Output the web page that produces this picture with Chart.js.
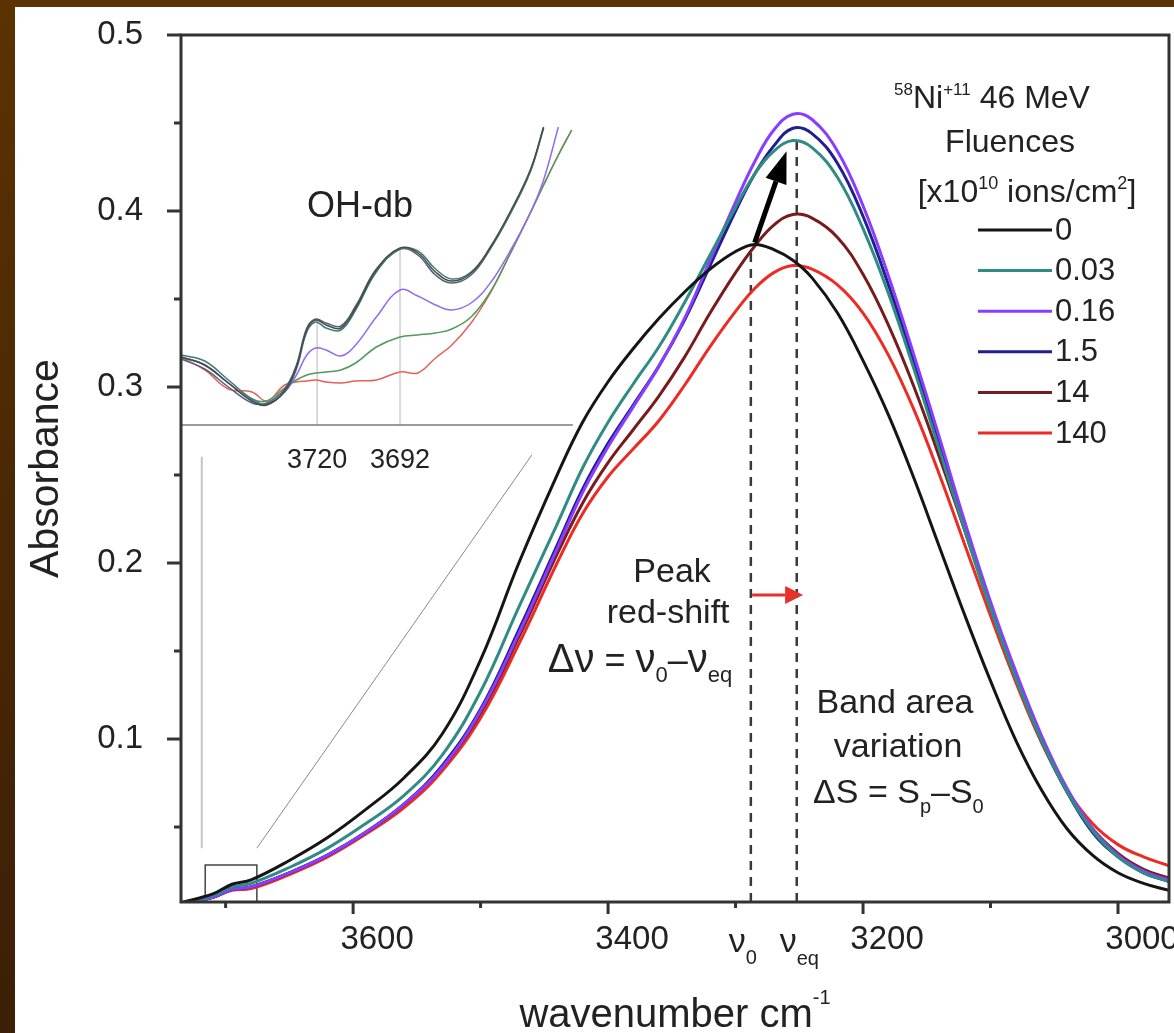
<!DOCTYPE html>
<html>
<head>
<meta charset="utf-8">
<title>Banda OH - fluências Ni</title>
<script src="https://cdn.jsdelivr.net/npm/chart.js@4.4.1/dist/chart.umd.min.js"></script>
<style>
  html, body { margin: 0; padding: 0; }
  body {
    width: 1174px; height: 1033px; overflow: hidden; position: relative;
    background: linear-gradient(to bottom, #5b3301 0%, #4a2805 50%, #3b1f06 100%);
  }
  #wrap { position: absolute; left: 15px; top: 7px; width: 1159px; height: 1026px; background: #fff; }
</style>
</head>
<body>
<div id="wrap"><canvas id="spectra" width="1159" height="1026"></canvas></div>
<script>
// Configuração global
const FONT = "'Liberation Sans', Arial, Helvetica, sans-serif";
Chart.defaults.font.family = FONT;
Chart.defaults.color = '#222';

// --- DADOS ---
const wavenumber = [3735, 3710, 3695, 3680, 3650, 3620, 3590, 3560, 3530, 3500, 3470, 3440, 3420, 3400, 3380, 3360, 3340, 3320, 3300, 3285, 3270, 3255, 3240, 3220, 3200, 3180, 3160, 3140, 3120, 3100, 3080, 3060, 3040, 3020, 3000, 2980, 2960];

const abs_0   = [0.007, 0.012, 0.0175, 0.020, 0.031, 0.044, 0.060, 0.078, 0.103, 0.145, 0.200, 0.250, 0.280, 0.303, 0.322, 0.339, 0.354, 0.367, 0.377, 0.381, 0.378, 0.372, 0.362, 0.342, 0.315, 0.284, 0.248, 0.209, 0.170, 0.133, 0.099, 0.071, 0.049, 0.034, 0.024, 0.018, 0.014];
const abs_003 = [0.006, 0.011, 0.016, 0.018, 0.027, 0.038, 0.052, 0.068, 0.091, 0.127, 0.175, 0.222, 0.254, 0.280, 0.302, 0.323, 0.348, 0.375, 0.402, 0.421, 0.434, 0.440, 0.436, 0.419, 0.390, 0.353, 0.310, 0.264, 0.218, 0.174, 0.134, 0.099, 0.070, 0.048, 0.033, 0.024, 0.019];
const abs_016 = [0.006, 0.010, 0.0145, 0.016, 0.024, 0.034, 0.047, 0.063, 0.084, 0.116, 0.160, 0.208, 0.240, 0.266, 0.289, 0.312, 0.339, 0.372, 0.405, 0.428, 0.446, 0.455, 0.452, 0.434, 0.403, 0.363, 0.318, 0.271, 0.223, 0.178, 0.138, 0.102, 0.072, 0.049, 0.034, 0.025, 0.020];
const abs_15  = [0.006, 0.010, 0.0145, 0.016, 0.024, 0.034, 0.047, 0.063, 0.085, 0.117, 0.162, 0.210, 0.242, 0.268, 0.290, 0.312, 0.338, 0.369, 0.400, 0.421, 0.437, 0.447, 0.444, 0.427, 0.397, 0.358, 0.314, 0.268, 0.221, 0.176, 0.136, 0.100, 0.070, 0.047, 0.033, 0.024, 0.019];
const abs_14  = [0.006, 0.010, 0.0145, 0.016, 0.024, 0.034, 0.047, 0.063, 0.084, 0.115, 0.158, 0.205, 0.234, 0.257, 0.276, 0.295, 0.317, 0.342, 0.365, 0.380, 0.392, 0.398, 0.396, 0.385, 0.364, 0.335, 0.300, 0.260, 0.218, 0.175, 0.135, 0.099, 0.070, 0.049, 0.035, 0.026, 0.021];
const abs_140 = [0.006, 0.010, 0.014, 0.015, 0.023, 0.033, 0.046, 0.061, 0.082, 0.112, 0.154, 0.200, 0.228, 0.249, 0.265, 0.281, 0.301, 0.323, 0.343, 0.356, 0.365, 0.369, 0.367, 0.358, 0.342, 0.318, 0.287, 0.250, 0.210, 0.170, 0.132, 0.098, 0.071, 0.052, 0.040, 0.033, 0.028];

const fluences = ['0', '0.03', '0.16', '1.5', '14', '140'];
const seriesAbs = [abs_0, abs_003, abs_016, abs_15, abs_14, abs_140];
const seriesColors = ['#151515', '#2e8c84', '#8a3cff', '#1f1f8f', '#761c1c', '#ec2c24'];

// inset OH-db (unidades arbitrárias, linha de base = 0)
const insetWavenumber = [3766, 3758, 3750, 3742, 3737, 3731, 3727, 3723.5, 3720.5, 3717, 3712, 3707, 3700, 3692, 3686, 3680, 3674.5, 3668, 3661.5, 3655, 3648, 3643.5, 3638.5, 3634];
const inset_0   = [0.68, 0.60, 0.42, 0.24, 0.20, 0.34, 0.58, 0.95, 1.05, 1.00, 0.97, 1.17, 1.55, 1.77, 1.72, 1.53, 1.44, 1.52, 1.78, 2.12, 2.55, 2.98, null, null];
const inset_003 = [0.70, 0.64, 0.45, 0.26, 0.21, 0.33, 0.56, 0.93, 1.03, 0.97, 0.95, 1.15, 1.53, 1.76, 1.74, 1.56, 1.46, 1.53, 1.77, 2.10, 2.53, 2.97, null, null];
const inset_15  = [0.66, 0.56, 0.38, 0.22, 0.22, 0.36, 0.60, 0.97, 1.06, 1.02, 0.99, 1.19, 1.56, 1.76, 1.70, 1.50, 1.42, 1.50, 1.76, 2.10, 2.54, 2.97, null, null];
const inset_016 = [0.68, 0.60, 0.42, 0.24, 0.21, 0.33, 0.50, 0.70, 0.77, 0.75, 0.69, 0.80, 1.08, 1.35, 1.29, 1.20, 1.15, 1.22, 1.42, 1.73, 2.12, 2.45, 2.98, null];
const inset_14  = [0.68, 0.60, 0.42, 0.26, 0.24, 0.37, 0.45, 0.50, 0.52, 0.53, 0.55, 0.62, 0.78, 0.88, 0.90, 0.92, 0.96, 1.08, 1.33, 1.70, 2.12, 2.40, 2.70, 2.95];
const inset_140 = [0.68, 0.55, 0.36, 0.33, 0.24, 0.40, 0.43, 0.44, 0.45, 0.43, 0.42, 0.44, 0.45, 0.53, 0.52, 0.67, 0.80, 1.02, 1.32, 1.70, 2.12, 2.40, 2.70, 2.95];
const insetSeries = [inset_0, inset_003, inset_15, inset_016, inset_14, inset_140];
const insetColors = ['#4a4a4a', '#3d7d76', '#56607a', '#8f6cf2', '#4f9a5c', '#e2625a'];
const insetPeaks = [3720, 3692];
const insetPeakHeights = [1.05, 1.77];

// eixos
const xTicks = [3700, 3600, 3500, 3400, 3300, 3200, 3100, 3000];
const yTicks = [0.05, 0.1, 0.15, 0.2, 0.25, 0.3, 0.35, 0.4, 0.45, 0.5];
const X_MIN = 2960, X_MAX = 3735;
const Y_MIN = 0.0074, Y_MAX = 0.5;
const X2_MIN = 3432.2, X2_MAX = 3766;   // escala do inset
const Y2_MIN = -4.77, Y2_MAX = 3.9;

// marcações
const nu0 = 3288, nuEq = 3252;
const nu0Top = 0.381, nuEqTop = 0.44;
const zoomBox = { x1: 3716, x2: 3675.5, y1: Y_MIN, y2: 0.0284 };
const guideV = [[3718.7, 0.038], [3718.7, 0.2604]];
const guideD = [[3675.5, 0.038], [3459.8, 0.2614]];
const blackArrow = [[3285, 0.382], [3260, 0.434]];
const redArrow = [[3287, 0.1818], [3247, 0.1818]];

// --- DATASETS ---
const pts = (xs, ys) => xs.map((v, k) => ({ x: v, y: ys[k] }));

const mainSets = fluences.map((f, i) => ({
    label: f,
    data: pts(wavenumber, seriesAbs[i]),
    borderColor: seriesColors[i],
    borderWidth: 3,
    pointRadius: 0,
    tension: 0.4
}));

const insetSets = insetSeries.map((s, i) => ({
    label: 'inset ' + i,
    data: pts(insetWavenumber, s),
    borderColor: insetColors[i],
    borderWidth: 1.5,
    pointRadius: 0,
    tension: 0.4,
    xAxisID: 'x2', yAxisID: 'y2'
}));

function segment(data, color, width, extra) {
    return Object.assign({ label: '', data, borderColor: color, borderWidth: width, pointRadius: 0, tension: 0 }, extra || {});
}

const guideSets = [
    segment([{ x: X2_MAX, y: 0 }, { x: 3633.6, y: 0 }], '#7a7a7a', 1.5, { xAxisID: 'x2', yAxisID: 'y2' }),
    ...insetPeaks.map((p, i) => segment([{ x: p, y: 0 }, { x: p, y: insetPeakHeights[i] }], '#b5b5b5', 1, { xAxisID: 'x2', yAxisID: 'y2' })),
    segment([{ x: zoomBox.x1, y: zoomBox.y1 }, { x: zoomBox.x1, y: zoomBox.y2 }, { x: zoomBox.x2, y: zoomBox.y2 }, { x: zoomBox.x2, y: zoomBox.y1 }], '#444', 1.5),
    segment(guideV.map(p => ({ x: p[0], y: p[1] })), '#c4c4c4', 2),
    segment(guideD.map(p => ({ x: p[0], y: p[1] })), '#8a8a8a', 1),
    segment([{ x: nu0, y: Y_MIN }, { x: nu0, y: nu0Top }], '#3a3a3a', 2.5, { borderDash: [9, 7] }),
    segment([{ x: nuEq, y: Y_MIN }, { x: nuEq, y: nuEqTop }], '#3a3a3a', 2.5, { borderDash: [9, 7] })
];

// --- DESENHO EXTRA (moldura, ticks, textos, legenda) ---
function rich(ctx, x, y, parts, align) {
    let w = 0;
    parts.forEach(p => { ctx.font = p[1] + 'px ' + FONT; w += ctx.measureText(p[0]).width; });
    let cx = align === 'center' ? x - w / 2 : x;
    parts.forEach(p => {
        ctx.font = p[1] + 'px ' + FONT;
        ctx.fillText(p[0], cx, y + (p[2] || 0));
        cx += ctx.measureText(p[0]).width;
    });
}

function line(ctx, x1, y1, x2, y2) {
    ctx.beginPath(); ctx.moveTo(x1, y1); ctx.lineTo(x2, y2); ctx.stroke();
}

function arrow(ctx, x1, y1, x2, y2, color, width, headLen, headW) {
    const ang = Math.atan2(y2 - y1, x2 - x1);
    const bx = x2 - headLen * Math.cos(ang), by = y2 - headLen * Math.sin(ang);
    ctx.strokeStyle = color; ctx.fillStyle = color; ctx.lineWidth = width;
    line(ctx, x1, y1, bx, by);
    ctx.beginPath();
    ctx.moveTo(x2, y2);
    ctx.lineTo(bx + headW / 2 * Math.sin(ang), by - headW / 2 * Math.cos(ang));
    ctx.lineTo(bx - headW / 2 * Math.sin(ang), by + headW / 2 * Math.cos(ang));
    ctx.closePath(); ctx.fill();
}

const decoracoes = {
    id: 'decoracoes',
    beforeDraw(chart) {
        const ctx = chart.ctx;
        ctx.save();
        ctx.fillStyle = '#fff';
        ctx.fillRect(0, 0, chart.width, chart.height);
        ctx.restore();
    },
    afterDraw(chart) {
        const { ctx, chartArea: a, scales } = chart;
        const { x, y, x2 } = scales;
        const px = v => x.getPixelForValue(v), py = v => y.getPixelForValue(v);
        ctx.save();

        // moldura e ticks
        ctx.strokeStyle = '#333'; ctx.lineWidth = 3; ctx.lineCap = 'butt';
        ctx.strokeRect(a.left, a.top, a.right - a.left, a.bottom - a.top);
        xTicks.forEach(v => line(ctx, px(v), a.bottom, px(v), a.bottom + (v % 200 === 0 ? 12 : 6)));
        yTicks.forEach(v => {
            const major = Math.round(v * 100) % 10 === 0;
            line(ctx, a.left - (major ? 14 : 7), py(v), a.left, py(v));
        });

        // setas
        arrow(ctx, px(blackArrow[0][0]), py(blackArrow[0][1]), px(blackArrow[1][0]), py(blackArrow[1][1]), '#000', 5, 32, 22);
        arrow(ctx, px(redArrow[0][0]), py(redArrow[0][1]), px(redArrow[1][0]), py(redArrow[1][1]), '#e8302a', 3, 18, 18);

        // textos
        ctx.fillStyle = '#222';
        ctx.textBaseline = 'alphabetic';
        ctx.textAlign = 'left';
        rich(ctx, px(3349.8), py(0.1892), [['Peak', 34]], 'center');
        rich(ctx, px(3352.9), py(0.1659), [['red-shift', 34]], 'center');
        rich(ctx, px(3374.9), py(0.1380), [['\u0394\u03bd', 40], [' = ', 36], ['\u03bd', 40], ['0', 22, 10], ['\u2013', 36], ['\u03bd', 40], ['eq', 22, 10]], 'center');
        rich(ctx, px(3174.9), py(0.1148), [['Band area', 34]], 'center');
        rich(ctx, px(3172.5), py(0.0898), [['variation', 34]], 'center');
        rich(ctx, px(3239.2), py(0.0636), [['\u0394S = S', 34], ['p', 20, 10], ['\u2013S', 34], ['0', 20, 10]], 'left');
        rich(ctx, px(3594.5), py(0.3966), [['OH-db', 36]], 'center');

        // rótulos do inset
        insetPeaks.forEach(p => rich(ctx, x2.getPixelForValue(p), 461, [[String(p), 27]], 'center'));

        // rótulos nu0 / nu_eq no eixo x
        rich(ctx, px(nu0) - 22, a.bottom + 50, [['\u03bd', 34], ['0', 20, 12]], 'left');
        rich(ctx, px(nuEq) - 17, a.bottom + 50, [['\u03bd', 34], ['eq', 20, 13]], 'left');

        // título do eixo x
        rich(ctx, (a.left + a.right) / 2, 1020, [['wavenumber cm', 40], ['-1', 20, -23]], 'center');

        // legenda
        rich(ctx, 977, 101, [['58', 17, -13], ['Ni', 32], ['+11', 17, -13], [' 46 MeV', 32]], 'center');
        rich(ctx, 995, 145, [['Fluences', 32]], 'center');
        rich(ctx, 1012, 195, [['[x10', 32], ['10', 18, -13], [' ions/cm', 32], ['2', 18, -13], [']', 32]], 'center');
        const lx1 = 963, lx2 = 1037, ly0 = 223, dy = 40.6;
        chart.data.datasets.slice(0, fluences.length).forEach((ds, i) => {
            const yy = ly0 + i * dy;
            ctx.strokeStyle = ds.borderColor; ctx.lineWidth = 3;
            line(ctx, lx1, yy, lx2, yy);
            ctx.fillStyle = '#222';
            ctx.textBaseline = 'middle';
            ctx.font = '31px ' + FONT;
            ctx.fillText(ds.label, lx2 + 3, yy + 1);
        });
        ctx.restore();
    }
};

// --- GRÁFICO ---
const ctxSpectra = document.getElementById('spectra').getContext('2d');
const spectraChart = new Chart(ctxSpectra, {
    type: 'line',
    data: { datasets: [...mainSets, ...insetSets, ...guideSets] },
    options: {
        responsive: false,
        animation: false,
        layout: { padding: { left: 0, top: 28, right: 5, bottom: 0 } },
        plugins: { legend: { display: false }, tooltip: { enabled: false } },
        scales: {
            x: {
                type: 'linear', reverse: true, min: X_MIN, max: X_MAX,
                grid: { display: false, drawTicks: true, tickLength: 8 },
                border: { display: false },
                ticks: {
                    autoSkip: false, maxRotation: 0, padding: 10, labelOffset: 24,
                    font: { size: 33 }, color: '#222',
                    callback: v => (v % 200 === 0 ? String(v) : '')
                },
                afterBuildTicks: s => { s.ticks = xTicks.map(v => ({ value: v })); },
                afterFit: s => { s.height = 131; s.paddingLeft = 0; s.paddingRight = 0; }
            },
            y: {
                type: 'linear', min: Y_MIN, max: Y_MAX,
                grid: { display: false, drawTicks: true, tickLength: 14 },
                border: { display: false },
                ticks: {
                    padding: 24, font: { size: 33 }, color: '#222',
                    callback: v => (Math.round(v * 100) % 10 === 0 ? v.toFixed(1) : '')
                },
                title: { display: true, text: 'Absorbance', font: { size: 41 }, color: '#222', padding: { top: 7, bottom: 0 } },
                afterBuildTicks: s => { s.ticks = yTicks.map(v => ({ value: v })); },
                afterFit: s => { s.width = 166; s.paddingTop = 0; s.paddingBottom = 0; }
            },
            x2: { type: 'linear', display: false, reverse: true, min: X2_MIN, max: X2_MAX },
            y2: { type: 'linear', display: false, min: Y2_MIN, max: Y2_MAX }
        }
    },
    plugins: [decoracoes]
});
</script>
</body>
</html>
